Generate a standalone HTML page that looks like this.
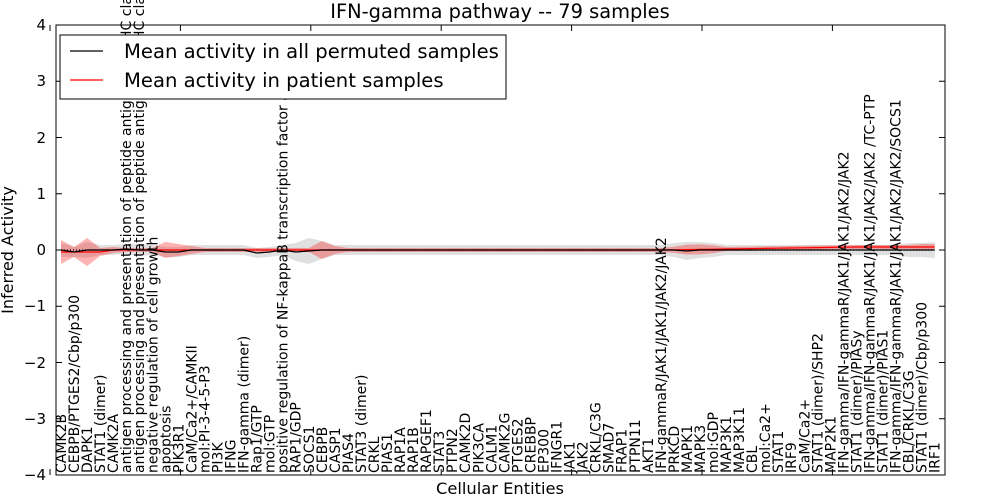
<!DOCTYPE html>
<html><head><meta charset="utf-8"><style>
html,body{margin:0;padding:0;background:#fff;}
svg{display:block;font-family:"DejaVu Sans","Liberation Sans",sans-serif;}
</style></head><body>
<svg id="s" width="1000" height="500" viewBox="0 0 1000 500" xmlns="http://www.w3.org/2000/svg">
<rect width="1000" height="500" fill="#fff"/>
<g id="bands"></g>
<g id="labels" font-size="14" fill="#000"></g>
<rect x="56" y="25" width="889" height="450" fill="none" stroke="#000" stroke-width="1"/>
<g id="ticks" stroke="#000" stroke-width="1"></g>
<g font-size="15" text-anchor="end">
<text x="46" y="30">4</text><text x="46" y="86">3</text><text x="46" y="143">2</text><text x="46" y="199">1</text>
<text x="46" y="255">0</text><text x="46" y="311">−1</text><text x="46" y="368">−2</text><text x="46" y="424">−3</text><text x="46" y="480">−4</text>
</g>
<text x="500" y="18" font-size="19.4" text-anchor="middle">IFN-gamma pathway -- 79 samples</text>
<text x="500" y="494" font-size="16.3" text-anchor="middle">Cellular Entities</text>
<text transform="translate(13,250) rotate(-90)" font-size="16" text-anchor="middle">Inferred Activity</text>
<rect x="60" y="35" width="446" height="64" fill="#fff" stroke="#000" stroke-width="1"/>
<line x1="70" y1="51" x2="103" y2="51" stroke="#000" stroke-width="1.2"/>
<line x1="70" y1="80" x2="103" y2="80" stroke="#f00" stroke-width="1.2"/>
<text x="124" y="58" font-size="19.6">Mean activity in all permuted samples</text>
<text x="124" y="87" font-size="19.6">Mean activity in patient samples</text>
</svg>
<script>
var L=["CAMK2B","CEBPB/PTGES2/Cbp/p300","DAPK1","STAT1 (dimer)","CAMK2A",
"antigen processing and presentation of peptide antigen via MHC class I",
"antigen processing and presentation of peptide antigen via MHC class II",
"negative regulation of cell growth","apoptosis","PIK3R1","CaM/Ca2+/CAMKII","mol:PI-3-4-5-P3","PI3K","IFNG","IFN-gamma (dimer)","Rap1/GTP","mol:GTP",
"positive regulation of NF-kappaB transcription factor activity","RAP1/GDP","SOCS1","CEBPB","CASP1","PIAS4","STAT3 (dimer)","CRKL","PIAS1","RAP1A","RAP1B","RAPGEF1","STAT3","PTPN2","CAMK2D","PIK3CA","CALM1","CAMK2G","PTGES2","CREBBP","EP300","IFNGR1","JAK1","JAK2","CRKL/C3G","SMAD7","FRAP1","PTPN11","AKT1",
"IFN-gammaR/JAK1/JAK1/JAK2/JAK2","PRKCD","MAPK1","MAPK3","mol:GDP","MAP3K1","MAP3K11","CBL","mol:Ca2+","STAT1","IRF9","CaM/Ca2+","STAT1 (dimer)/SHP2","MAP2K1",
"IFN-gamma/IFN-gammaR/JAK1/JAK1/JAK2/JAK2","STAT1 (dimer)/PIASy","IFN-gamma/IFN-gammaR/JAK1/JAK1/JAK2/JAK2  /TC-PTP","STAT1 (dimer)/PIAS1",
"IFN-gamma/IFN-gammaR/JAK1/JAK1/JAK2/JAK2/SOCS1","CBL/CRKL/C3G","STAT1 (dimer)/Cbp/p300","IRF1"];
var N=L.length,ns="http://www.w3.org/2000/svg";
function X(i){return 61+13.04*i;}
var g=document.getElementById("labels");
for(var i=0;i<N;i++){var t=document.createElementNS(ns,"text");var x=X(i)+5;
t.setAttribute("x",x);t.setAttribute("y",473);t.setAttribute("transform","rotate(-90 "+x+" 473)");t.textContent=L[i];g.appendChild(t);}
var gw=[],rw=[],bm=[],rm=[];
for(i=0;i<N;i++){gw.push(5);rw.push(2);bm.push(0);rm.push(0);}
var R={0:12,1:5,2:14,3:4,4:3,8:8,9:6,10:4,20:9,21:4,47:3,48:5,49:5,50:4,57:2,66:3,67:3};
for(var k in R)rw[k]=R[k];
var G={0:7,2:8,6:6,18:9,19:13,20:9,47:7,48:9,49:8,50:7,65:7,66:7,67:8};
for(k in G)gw[k]=G[k];
var B={1:2,5:-1,8:2,9:2,15:3,16:2,18:2,19:1,48:1};for(k in B)bm[k]=B[k];
for(i=0;i<N;i++){rm[i]=(i<4?2:0)-(i>46?Math.min(3,(i-46)*0.2):0);}
function poly(mid,w,fill,op){var p=[],j;for(j=0;j<N;j++)p.push(X(j)+","+(250+mid[j]-w[j]));
for(j=N-1;j>=0;j--)p.push(X(j)+","+(250+mid[j]+w[j]));var e=document.createElementNS(ns,"polygon");
e.setAttribute("points",p.join(" "));e.setAttribute("fill",fill);e.setAttribute("fill-opacity",op);document.getElementById("bands").appendChild(e);}
function line(mid,col,dash){var p=[];for(var j=0;j<N;j++)p.push(X(j)+","+(250+mid[j]));var e=document.createElementNS(ns,"polyline");
e.setAttribute("points",p.join(" "));e.setAttribute("fill","none");e.setAttribute("stroke",col);e.setAttribute("stroke-width","1.2");
if(dash)e.setAttribute("stroke-dasharray",dash);document.getElementById("bands").appendChild(e);}
poly(bm,gw,"#bbb","0.45");poly(rm,rw,"#f00","0.3");
var z=[];for(i=0;i<N;i++)z.push(0);line(z,"#000","1,2");
line(rm,"#f00");line(bm,"#000");
var tk=document.getElementById("ticks"),s="";
for(var v=-4;v<=4;v++){var y=250-v*56.25;s+='<line x1="56" y1="'+y+'" x2="62" y2="'+y+'"/><line x1="939" y1="'+y+'" x2="945" y2="'+y+'"/>';}
for(i=0;i<N;i+=10){var x=X(i)-11;s+='<line x1="'+x+'" y1="25" x2="'+x+'" y2="31"/><line x1="'+x+'" y1="469" x2="'+x+'" y2="475"/>';}
tk.innerHTML=s;
</script>
</body></html>
